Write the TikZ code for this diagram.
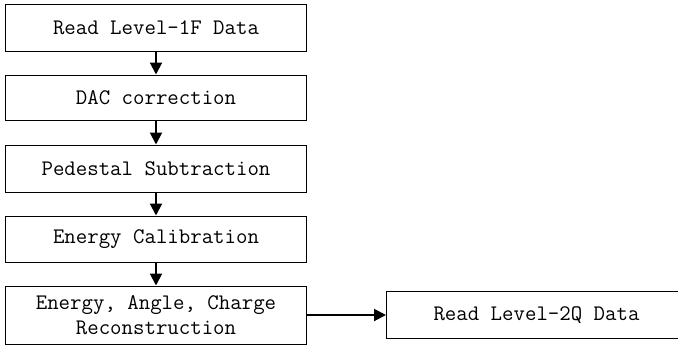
\documentclass[tikz,border=0pt]{standalone}
\usetikzlibrary{arrows.meta}
\begin{document}
\begin{tikzpicture}[x=1bp,y=-1bp,
  stagebox/.style={draw=black, line width=1bp, rectangle, inner sep=0pt,
    font=\fontsize{22.3}{24.5}\selectfont\ttfamily, align=center},
  flow/.style={line width=2bp, -{Triangle[length=12bp,width=12bp]}}]
  \clip (0,0) rectangle (678,347);
  \node[stagebox, minimum width=301bp, minimum height=47.5bp] (b1) at (156,27.75) {Read Level-1F Data};
  \node[stagebox, minimum width=301bp, minimum height=45.5bp] (b2) at (156,97.75) {DAC correction};
  \node[stagebox, minimum width=301bp, minimum height=47bp] (b3) at (156,168.5) {Pedestal Subtraction};
  \node[stagebox, minimum width=301bp, minimum height=46.5bp] (b4) at (156,239.25) {Energy Calibration};
  \node[stagebox, minimum width=301bp, minimum height=58bp] (b5) at (156,315) {Energy, Angle, Charge\\Reconstruction};
  \node[stagebox, minimum width=293bp, minimum height=47.5bp] (r) at (533,315) {\hspace*{7bp}Read Level-2Q Data};
  \draw[flow] (b1.south) -- (b2.north);
  \draw[flow] (b2.south) -- (b3.north);
  \draw[flow] (b3.south) -- (b4.north);
  \draw[flow] (b4.south) -- (b5.north);
  \draw[flow] (b5.east) -- (r.west);
\end{tikzpicture}
\end{document}
